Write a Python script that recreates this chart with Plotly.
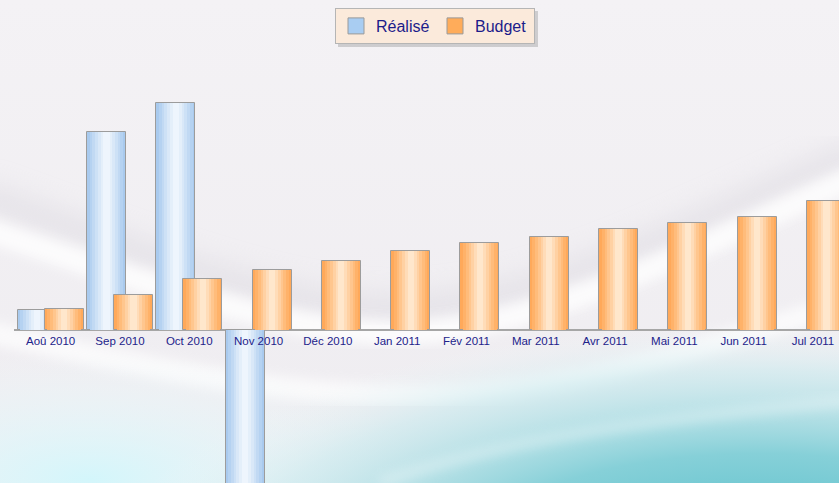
import base64
import plotly.graph_objects as go

# ---- data ----
months = ["Aoû 2010", "Sep 2010", "Oct 2010", "Nov 2010", "Déc 2010", "Jan 2011",
          "Fév 2011", "Mar 2011", "Avr 2011", "Mai 2011", "Jun 2011", "Jul 2011"]
realise = [20, 198, 227, -190, None, None, None, None, None, None, None, None]
budget = [21, 35, 51, 60, 69, 79, 87, 93, 101, 107, 113, 129]

W, H = 839, 483
ML = 14

# ---- background (decorative SVG image) ----
svg = f"""<svg xmlns='http://www.w3.org/2000/svg' width='{W}' height='{H}' viewBox='0 0 {W} {H}'>
<defs>
<linearGradient id='bg' x1='0' y1='0' x2='0' y2='1'>
<stop offset='0' stop-color='#f4f2f5'/><stop offset='1' stop-color='#eeecf0'/></linearGradient>
<radialGradient id='teal' cx='760' cy='560' r='430' gradientUnits='userSpaceOnUse' gradientTransform='translate(760 560) scale(1.5 0.55) translate(-760 -560)'>
<stop offset='0' stop-color='#4fbcc8'/><stop offset='0.45' stop-color='#86d0d8'/><stop offset='0.8' stop-color='#c9eaee' stop-opacity='0.6'/><stop offset='1' stop-color='#eef7f8' stop-opacity='0'/></radialGradient>
<radialGradient id='cyan' cx='90' cy='480' r='260' gradientUnits='userSpaceOnUse' gradientTransform='translate(90 480) scale(1.3 0.5) translate(-90 -480)'>
<stop offset='0' stop-color='#d3f6fb'/><stop offset='1' stop-color='#f0fbfc' stop-opacity='0'/></radialGradient>
<filter id='b6'><feGaussianBlur stdDeviation='6'/></filter>
<filter id='b12'><feGaussianBlur stdDeviation='12'/></filter>
</defs>
<rect width='{W}' height='{H}' fill='url(#bg)'/>
<path d='M-20,195 C150,255 300,318 420,308 C560,298 700,218 860,152' stroke='#dcd9e0' stroke-width='30' fill='none' opacity='0.5' filter='url(#b12)'/>
<path d='M-20,228 C150,283 300,340 420,332 C560,322 700,245 860,175' stroke='#ffffff' stroke-width='24' fill='none' opacity='0.8' filter='url(#b6)'/>
<path d='M-20,330 C150,370 300,400 440,395 C600,388 720,340 860,300' stroke='#ffffff' stroke-width='22' fill='none' opacity='0.7' filter='url(#b6)'/>
<rect x='0' y='330' width='{W}' height='{H-330}' fill='url(#cyan)'/>
<rect x='0' y='300' width='{W}' height='{H-300}' fill='url(#teal)'/>
<path d='M380,483 C500,440 640,420 860,400' stroke='#ffffff' stroke-width='10' fill='none' opacity='0.35' filter='url(#b6)'/>
</svg>"""
bg_uri = "data:image/svg+xml;base64," + base64.b64encode(svg.encode("utf-8")).decode("ascii")

fig = go.Figure()

# ---- gradient-like bars (stacked layers of narrower, lighter bars) ----
BW = 0.563
SHIFT = 0.195
blue_layers = ["#a9caee", "#b5d2f1", "#c1d9f3", "#cde1f6", "#d9e8f8", "#e4effa", "#eef5fd"]
orange_layers = ["#ffa95a", "#ffb269", "#ffbc7b", "#ffc68e", "#ffd1a3", "#ffdcb8", "#ffe7cc"]
fracs = [1.0, 0.86, 0.72, 0.58, 0.44, 0.30, 0.16]


def add_series(values, colors, center):
    for i, (f, c) in enumerate(zip(fracs, colors)):
        w = BW * f
        fig.add_trace(go.Bar(
            x=months, y=values, width=w, offset=center - w / 2,
            marker=dict(color=c,
                        line=dict(color="#9c9c9c", width=1 if i == 0 else 0)),
            showlegend=False, hoverinfo="skip"))


add_series(realise, blue_layers, -SHIFT)
add_series(budget, orange_layers, SHIFT)

# legend entries
fig.add_trace(go.Scatter(x=[None], y=[None], mode="markers", name="Réalisé",
                         marker=dict(symbol="square", size=16, color="#a9cdf2",
                                     line=dict(color="#9a9a9a", width=1))))
fig.add_trace(go.Scatter(x=[None], y=[None], mode="markers", name="Budget",
                         marker=dict(symbol="square", size=16, color="#ffac5a",
                                     line=dict(color="#9a9a9a", width=1))))

PW = W - ML
ymin, ymax = -153, 330
zero_frac = (0 - ymin) / (ymax - ymin)
x0 = -0.5 - 2 / 69.3

LEG_X = 335
LEG_W = 200


def px2paper_x(px):
    return (px - ML) / PW


def px2paper_y(py):
    return 1 - py / H


fig.update_layout(
    width=W, height=H,
    margin=dict(l=ML, r=0, t=0, b=0, autoexpand=False),
    paper_bgcolor="#f2f0f3",
    plot_bgcolor="rgba(0,0,0,0)",
    barmode="overlay",
    bargap=0,
    font=dict(family="Liberation Sans, Arial", color="#22228a"),
    xaxis=dict(type="category", range=[x0, x0 + PW / 69.3],
               anchor="free", position=zero_frac,
               showline=False, showgrid=False, ticks="", zeroline=False,
               ticklabelstandoff=2,
               tickfont=dict(size=11.5, color="#22228a"), fixedrange=True),
    yaxis=dict(range=[ymin, ymax], showgrid=False, showticklabels=False,
               zeroline=True, zerolinecolor="#a6a6a6", zerolinewidth=1.5,
               fixedrange=True),
    legend=dict(orientation="h", xref="container", yref="container",
                x=LEG_X / W, xanchor="left", y=1 - 8 / H, yanchor="top",
                bgcolor="#fbeadb", bordercolor="#b5b5b5", borderwidth=1,
                font=dict(family="Liberation Sans, Arial", size=16, color="#1c1c8a"),
                itemwidth=30, entrywidth=54, tracegroupgap=0),
    images=[dict(source=bg_uri, xref="paper", yref="paper",
                 x=-ML / PW, y=1, sizex=W / PW, sizey=1,
                 xanchor="left", yanchor="top", sizing="stretch", layer="below")],
    shapes=[dict(type="rect", xref="paper", yref="paper",
                 x0=px2paper_x(LEG_X + 3), x1=px2paper_x(LEG_X + LEG_W + 3),
                 y0=px2paper_y(47), y1=px2paper_y(11),
                 fillcolor="rgba(120,120,120,0.3)", line=dict(width=0), layer="above")],
)

fig.write_html("out.html")
